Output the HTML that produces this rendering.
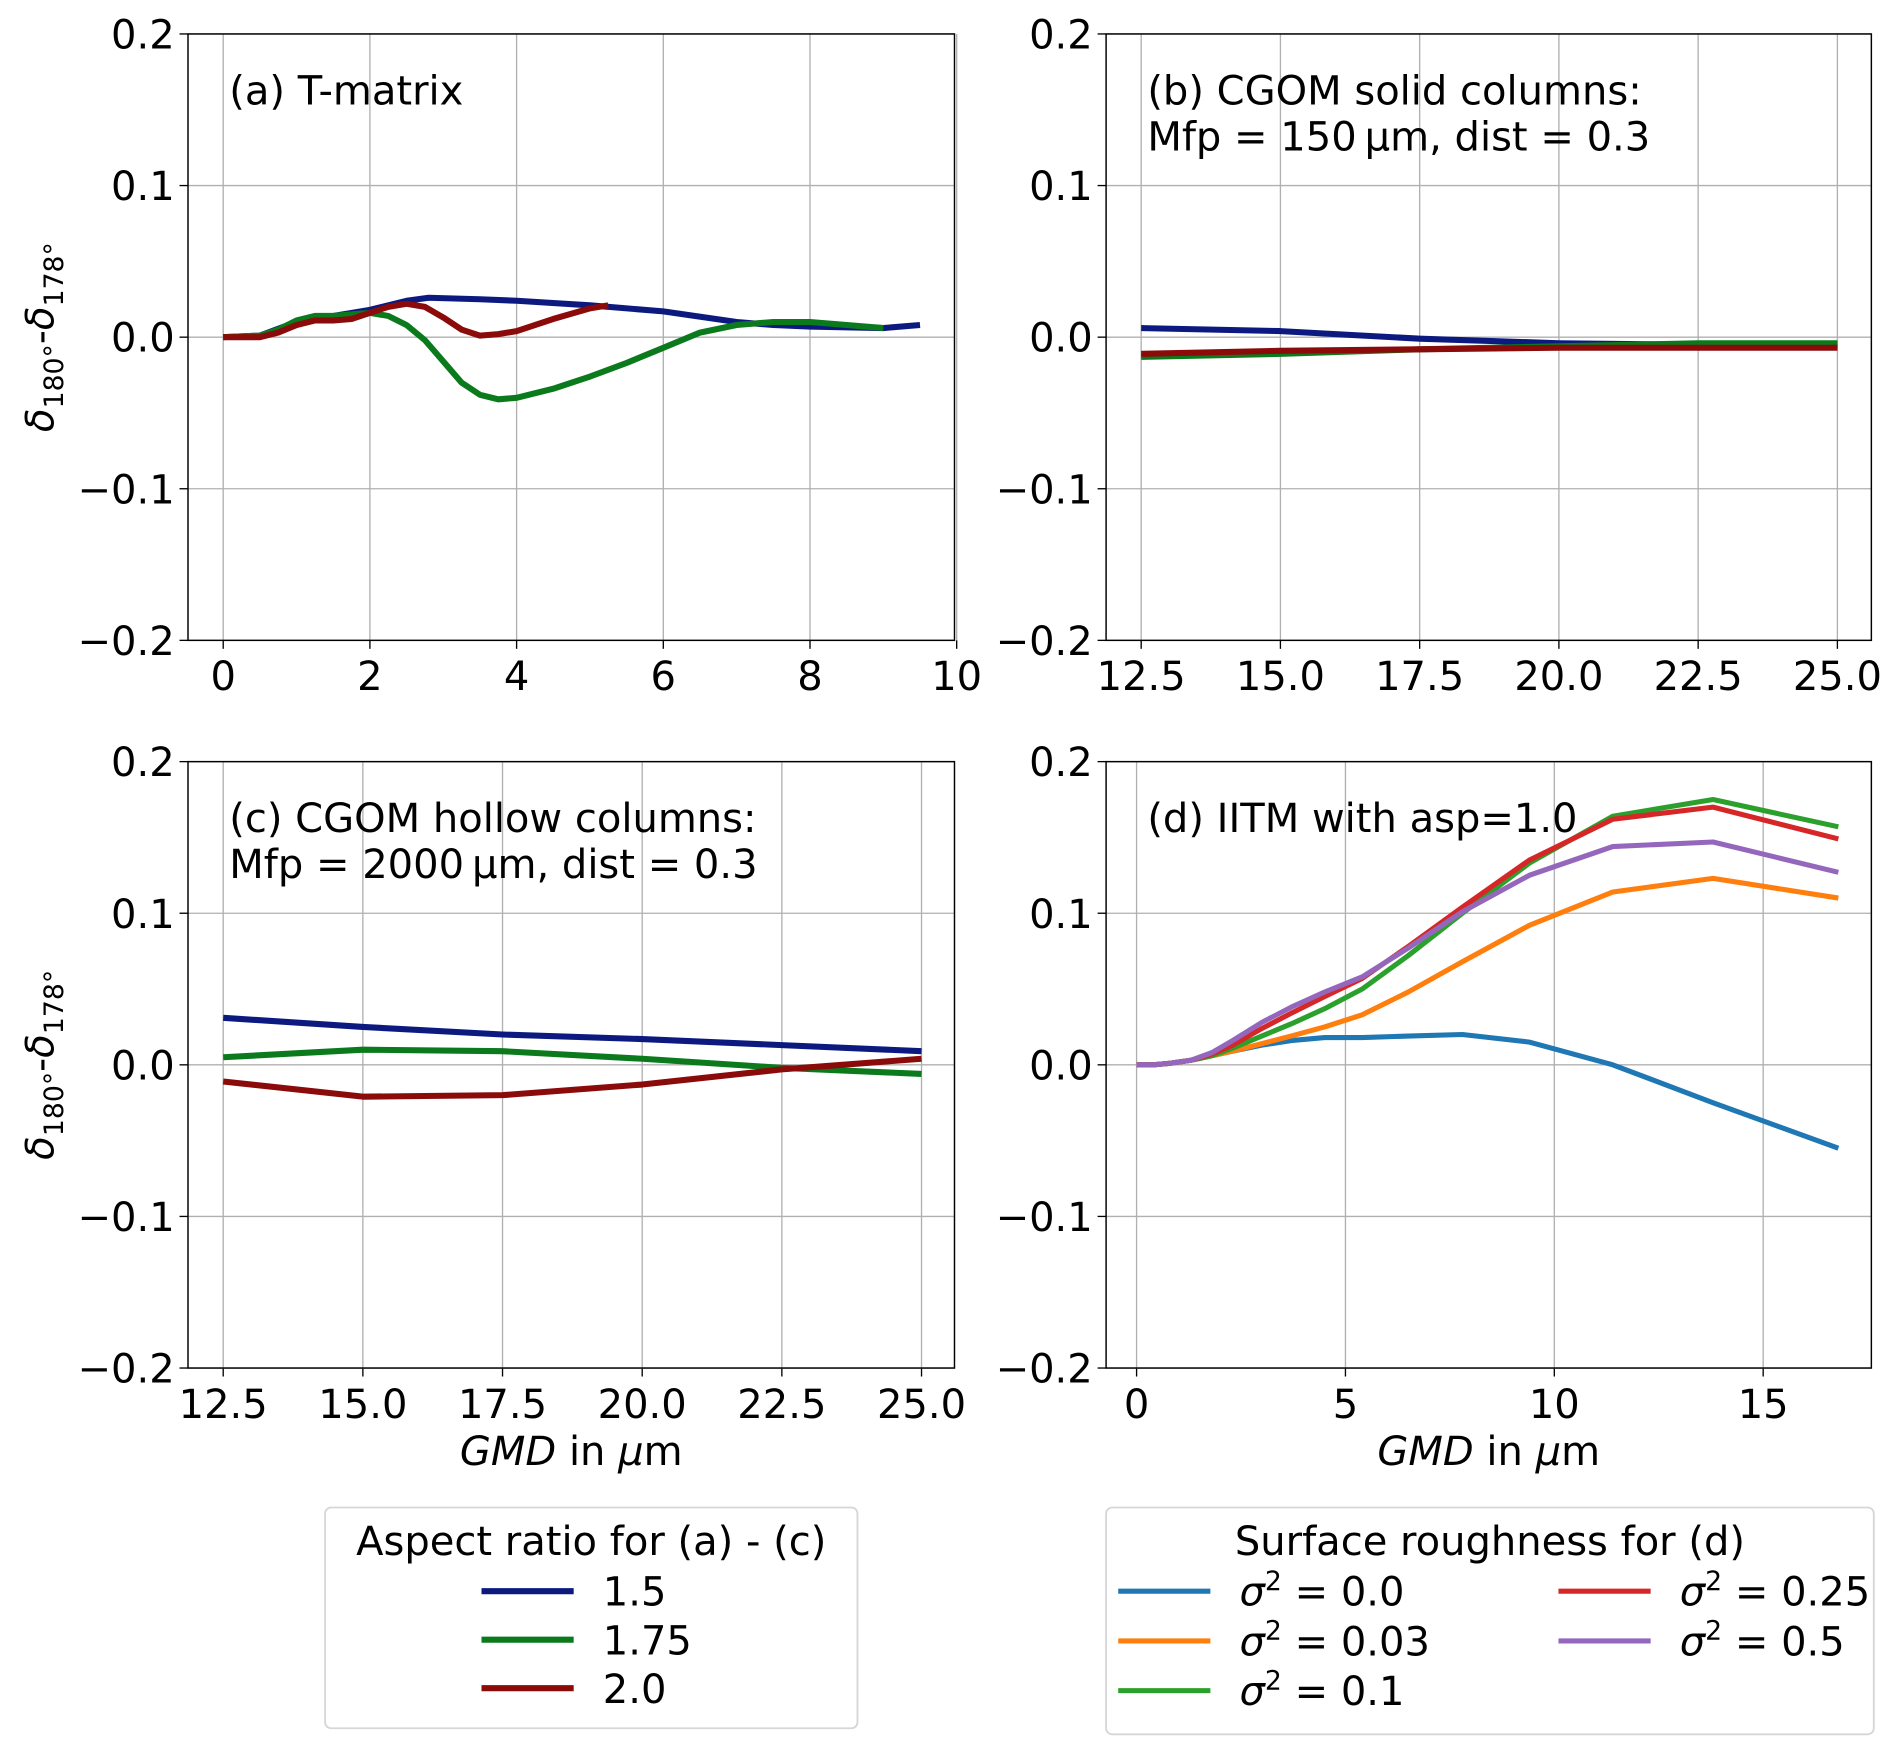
<!DOCTYPE html>
<html><head><meta charset="utf-8"><style>
html,body{margin:0;padding:0;background:#fff;}
svg{display:block;font-family:"DejaVu Sans","Liberation Sans",sans-serif;}
</style></head><body>
<svg id="fig" width="1892" height="1748" viewBox="0 0 1560 1441.3" xmlns="http://www.w3.org/2000/svg">
<g id="root"></g>
</svg>
<script>
// Panel (a) T-matrix
const aX15 = [0,0.5,1,1.5,2,2.5,2.8,3.5,4,5,6,7,7.5,8,9,9.5];
const aY15 = [0,0.001,0.01,0.014,0.018,0.024,0.026,0.025,0.024,0.021,0.017,0.01,0.008,0.007,0.006,0.008];
const aX175 = [0,0.5,0.75,1,1.25,1.5,1.75,2,2.25,2.5,2.75,3,3.25,3.5,3.75,4,4.5,5,5.5,6,6.5,7,7.5,8,8.5,9];
const aY175 = [0,0.001,0.005,0.011,0.014,0.014,0.015,0.016,0.014,0.008,-0.002,-0.016,-0.03,-0.038,-0.041,-0.040,-0.034,-0.026,-0.017,-0.007,0.003,0.008,0.010,0.010,0.008,0.006];
const aX20 = [0,0.5,0.75,1,1.25,1.5,1.75,2,2.25,2.5,2.75,3,3.25,3.5,3.75,4,4.5,5,5.25];
const aY20 = [0,0,0.003,0.008,0.011,0.011,0.012,0.016,0.020,0.022,0.020,0.013,0.005,0.001,0.002,0.004,0.012,0.019,0.021];
// Panel (b) and (c)
const bcX = [12.5,15,17.5,20,22.5,25];
const bY15 = [0.006,0.004,-0.001,-0.004,-0.005,-0.006];
const bY175 = [-0.013,-0.011,-0.008,-0.006,-0.004,-0.004];
const bY20 = [-0.011,-0.009,-0.008,-0.007,-0.007,-0.007];
const cY15 = [0.031,0.025,0.020,0.017,0.013,0.009];
const cY175 = [0.005,0.010,0.009,0.004,-0.002,-0.006];
const cY20 = [-0.011,-0.021,-0.020,-0.013,-0.003,0.004];
// Panel (d)
const dX = [0,0.4,0.8,1.3,1.8,2.3,3,3.7,4.5,5.4,6.5,7.8,9.4,11.4,13.8,16.8];
const dY00 = [0,0,0.001,0.003,0.006,0.009,0.013,0.016,0.018,0.018,0.019,0.020,0.015,0.0,-0.025,-0.055];
const dY003 = [0,0,0.001,0.003,0.006,0.009,0.014,0.019,0.025,0.033,0.048,0.068,0.092,0.114,0.123,0.110];
const dY01 = [0,0,0.001,0.003,0.006,0.011,0.019,0.027,0.037,0.050,0.072,0.100,0.133,0.164,0.175,0.157];
const dY025 = [0,0,0.001,0.003,0.007,0.013,0.024,0.034,0.045,0.057,0.078,0.104,0.135,0.162,0.170,0.149];
const dY05 = [0,0,0.001,0.003,0.008,0.016,0.028,0.038,0.048,0.058,0.077,0.101,0.125,0.144,0.147,0.127];
const yTicks = [-0.2,-0.1,0.0,0.1,0.2];
const yTickLabels = ["\u22120.2","\u22120.1","0.0","0.1","0.2"];
const aTicks = [0,2,4,6,8,10];
const bcTicks = [12.5,15,17.5,20,22.5,25];
const bcTickLabels = ["12.5","15.0","17.5","20.0","22.5","25.0"];
const dTicks = [0,5,10,15];

const NS="http://www.w3.org/2000/svg";
const root=document.getElementById('root');
function mk(tag,attrs,parent,text){const e=document.createElementNS(NS,tag);for(const k in attrs)e.setAttribute(k,attrs[k]);if(text!==undefined)e.textContent=text;(parent||root).appendChild(e);return e;}
const TF=33, LF=33;

function panel(name,L,R,T,B,xmin,xmax,ticks,tickLabels,series,title,showYLabel,showXLabel,lw){
  const g=mk('g',{});
  
  
  const sx=v=>L+(v-xmin)/(xmax-xmin)*(R-L);
  const sy=v=>B-(v+0.2)/0.4*(B-T);
  ticks.forEach((t,i)=>{const l=mk('line',{x1:sx(t),x2:sx(t),y1:T,y2:B,stroke:'#b0b0b0','stroke-width':1.1},g);
    
    
    mk('line',{x1:sx(t),x2:sx(t),y1:B,y2:B+7,stroke:'#000','stroke-width':1.1},g);
    const tx=mk('text',{x:sx(t),y:B+41,'font-size':TF,'text-anchor':'middle',fill:'#000'},g,tickLabels[i]);
    
    
  });
  yTicks.forEach((t,i)=>{const l=mk('line',{x1:L,x2:R,y1:sy(t),y2:sy(t),stroke:'#b0b0b0','stroke-width':1.1},g);
    
    
    mk('line',{x1:L-7,x2:L,y1:sy(t),y2:sy(t),stroke:'#000','stroke-width':1.1},g);
    const tx=mk('text',{x:L-11,y:sy(t)+12,'font-size':TF,'text-anchor':'end',fill:'#000'},g,yTickLabels[i]);
    
    
  });
  series.forEach(s=>{
    const d=s.x.map((x,i)=>(i?'L':'M')+sx(x).toFixed(2)+','+sy(s.y[i]).toFixed(2)).join(' ');
    const p=mk('path',{d:d,fill:'none',stroke:s.c,'stroke-width':lw,'stroke-linejoin':'round'},g);
    
    
  });
  const fr=mk('rect',{x:L,y:T,width:R-L,height:B-T,fill:'none',stroke:'#000','stroke-width':1.2},g);
  
  
  title.forEach((t,i)=>{const tx=mk('text',{x:L+34,y:T+58+i*38,'font-size':LF,fill:'#000'},g,t);
    
    });
  if(showYLabel){
    const cy=(T+B)/2;
    const yl=mk('text',{x:0,y:0,'font-size':32,'text-anchor':'middle',transform:`translate(44,${cy}) rotate(-90)`,fill:'#000'},g);
    
    
    yl.innerHTML='<tspan font-style="italic">δ</tspan><tspan font-size="22" dy="8">180°</tspan><tspan dy="-8">-</tspan><tspan font-style="italic">δ</tspan><tspan font-size="22" dy="8">178°</tspan>';
  }
  if(showXLabel){
    const xl=mk('text',{x:(L+R)/2,y:B+80,'font-size':LF,'text-anchor':'middle',fill:'#000'},g);
    
    
    xl.innerHTML='<tspan font-style="italic">GMD</tspan> in <tspan font-style="italic">μ</tspan>m';
  }
}
const NAVY='#0c1a80',GRN='#0b7a1c',DRED='#8b0a0a';
panel('panel-a-tmatrix',155,787,28,528,-0.48,9.97,aTicks,aTicks.map(String),[
 {x:aX15,y:aY15,c:NAVY,n:'line-a-1.5'},{x:aX175,y:aY175,c:GRN,n:'line-a-1.75'},{x:aX20,y:aY20,c:DRED,n:'line-a-2.0'}],
 ['(a) T-matrix'],true,false,5);
panel('panel-b-solid-columns',912,1543,28,528,11.87,25.61,bcTicks,bcTickLabels,[
 {x:bcX,y:bY15,c:NAVY,n:'line-b-1.5'},{x:bcX,y:bY175,c:GRN,n:'line-b-1.75'},{x:bcX,y:bY20,c:DRED,n:'line-b-2.0'}],
 ['(b) CGOM solid columns:','Mfp = 150\u2009μm, dist = 0.3'],false,false,5);
panel('panel-c-hollow-columns',155,787,628,1128,11.87,25.59,bcTicks,bcTickLabels,[
 {x:bcX,y:cY15,c:NAVY,n:'line-c-1.5'},{x:bcX,y:cY175,c:GRN,n:'line-c-1.75'},{x:bcX,y:cY20,c:DRED,n:'line-c-2.0'}],
 ['(c) CGOM hollow columns:','Mfp = 2000\u2009μm, dist = 0.3'],true,true,5);
panel('panel-d-iitm',912,1543,628,1128,-0.73,17.59,dTicks,dTicks.map(String),[
 {x:dX,y:dY00,c:'#1f77b4',n:'line-d-0.0'},{x:dX,y:dY003,c:'#ff7f0e',n:'line-d-0.03'},{x:dX,y:dY01,c:'#2ca02c',n:'line-d-0.1'},
 {x:dX,y:dY025,c:'#d62728',n:'line-d-0.25'},{x:dX,y:dY05,c:'#9467bd',n:'line-d-0.5'}],
 ['(d) IITM with asp=1.0'],false,true,4.2);

function legend(name,x,y,w,h,title,items,lw){
  const g=mk('g',{});
  
  
  mk('rect',{x:x,y:y,width:w,height:h,rx:5,fill:'#fff',stroke:'#d6d6d6','stroke-width':1.5},g);
  mk('text',{x:x+w/2,y:y+39,'font-size':LF,'text-anchor':'middle',fill:'#000'},g,title);
  items.forEach(it=>{
    const e=mk('line',{x1:it.x,x2:it.x+76,y1:it.y,y2:it.y,stroke:it.c,'stroke-width':lw},g);
    
    
    const t=mk('text',{x:it.x+100,y:it.y+12,'font-size':LF,fill:'#000'},g);
    
    
    t.innerHTML=it.l;
  });
}
legend('legend-aspect-ratio',268,1243,439,182,'Aspect ratio for (a) - (c)',[
 {x:397,y:1312,c:NAVY,l:'1.5'},{x:397,y:1352,c:GRN,l:'1.75'},{x:397,y:1392,c:DRED,l:'2.0'}],5);
const sig=v=>'<tspan font-style="italic">σ</tspan><tspan font-size="22" dy="-13">2</tspan><tspan dy="13"> = '+v+'</tspan>';
legend('legend-surface-roughness',912,1243,633,187,'Surface roughness for (d)',[
 {x:922,y:1312,c:'#1f77b4',l:sig('0.0')},{x:922,y:1353,c:'#ff7f0e',l:sig('0.03')},{x:922,y:1394,c:'#2ca02c',l:sig('0.1')},
 {x:1285,y:1312,c:'#d62728',l:sig('0.25')},{x:1285,y:1353,c:'#9467bd',l:sig('0.5')}],4.2);
</script>
</body></html>
